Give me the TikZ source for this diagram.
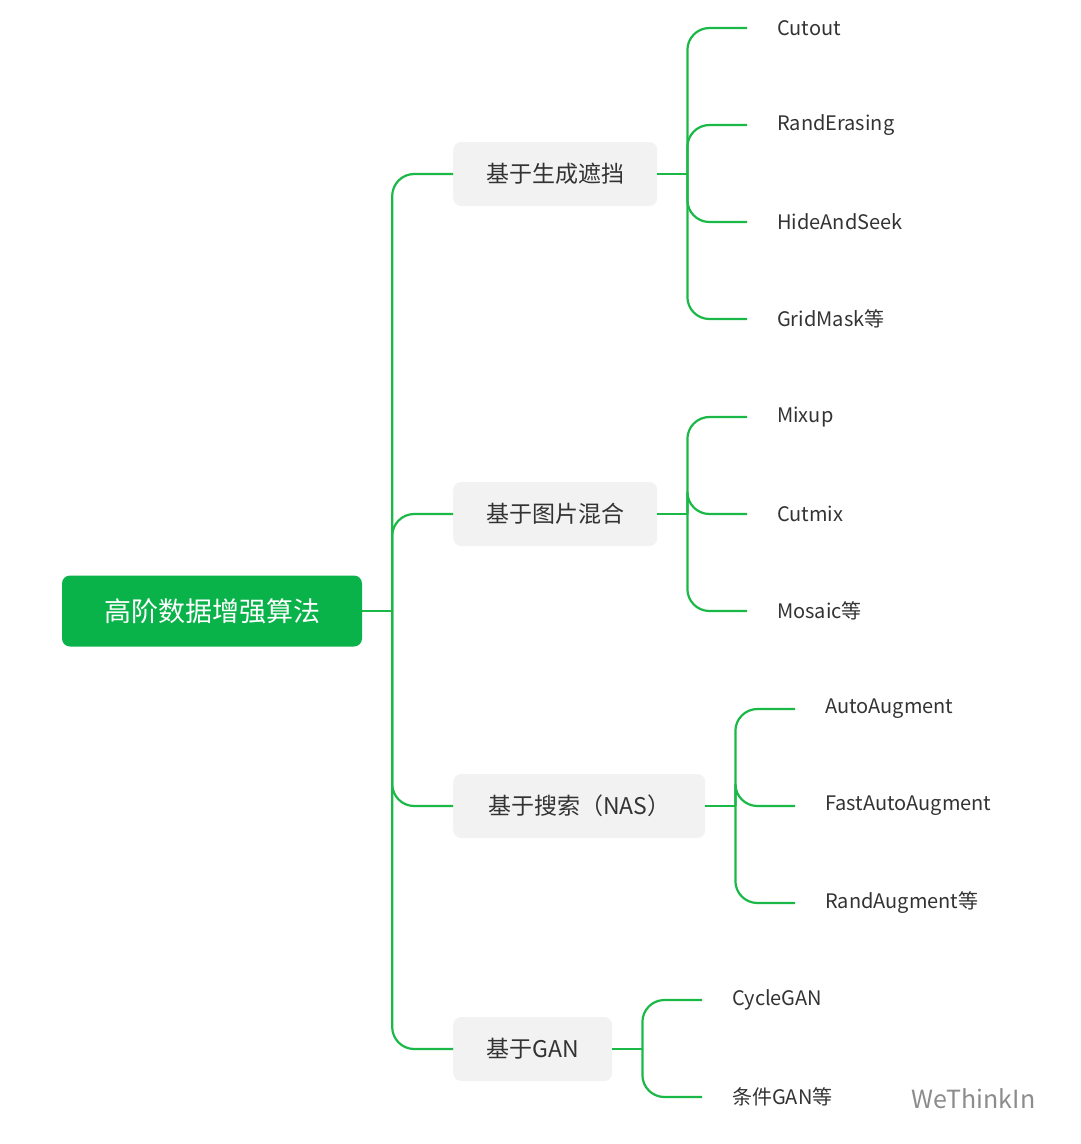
\documentclass[tikz,border=0pt]{standalone}
\usepackage{fontspec}
\setmainfont{Noto Sans CJK SC}
\usetikzlibrary{positioning}
\definecolor{branch}{RGB}{26, 184, 70}
\definecolor{rootgreen}{RGB}{10, 178, 74}
\definecolor{boxgray}{RGB}{242, 242, 242}
\definecolor{textgray}{RGB}{51, 51, 51}
\tikzset{
  rootbox/.style={fill=rootgreen, rounded corners=8pt, text=white, minimum width=300pt, minimum height=71pt, font=\fontsize{27}{31}\selectfont},
  catbox/.style={fill=boxgray, rounded corners=8pt, text=textgray, minimum height=64pt, anchor=west, font=\fontsize{23}{27}\selectfont},
  leaf/.style={anchor=west, inner sep=0pt, text=textgray, font=\fontsize{20}{24}\selectfont},
  link/.style={draw=branch, line width=2.2pt, rounded corners=22pt}
}
\begin{document}
\begin{tikzpicture}[x=1pt, y=-1pt]
  \useasboundingbox (0,0) rectangle (1080,1144);
  % root and categories
  \node[rootbox] (root) at (212,611) {高阶数据增强算法};
  \node[catbox, minimum width=204pt] (occl) at (453,174) {基于生成遮挡};
  \node[catbox, minimum width=204pt] (mix) at (453,514) {基于图片混合};
  \node[catbox, minimum width=252pt] (nas) at (453,806) {基于搜索（NAS）};
  \node[catbox, minimum width=159pt] (gan) at (453,1049) {基于GAN};

  % leaves
  \node[leaf] (cutout) at (777,28) {Cutout};
  \node[leaf] (rerase) at (777,125) {RandErasing};
  \node[leaf] (hide) at (777,222) {HideAndSeek};
  \node[leaf] (grid) at (777,319) {GridMask等};
  \node[leaf] (mixup) at (777,417) {Mixup};
  \node[leaf] (cutmix) at (777,514) {Cutmix};
  \node[leaf] (mosaic) at (777,611) {Mosaic等};
  \node[leaf] (autoaug) at (825,709) {AutoAugment};
  \node[leaf] (fastaug) at (825,806) {FastAutoAugment};
  \node[leaf] (randaug) at (825,903) {RandAugment等};
  \node[leaf] (cycle) at (732,1000) {CycleGAN};
  \node[leaf] (cgan) at (732,1097) {条件GAN等};

  % watermark
  \node[anchor=west, text=black!45, font=\fontsize{25}{29}\selectfont] (mark) at (908,1099) {WeThinkIn};

  % junctions
  \foreach \p in {root, occl, mix, nas, gan}
    \coordinate (\p-j) at ([xshift=30pt]\p.east);

  % connectors
  \foreach \p in {root, occl, mix, nas, gan}
    \draw[link] (\p.east) -- (\p-j);
  \foreach \c in {occl, mix, nas, gan}
    \draw[link] (root-j) |- (\c.west);
  \foreach \l in {cutout, rerase, hide, grid}
    \draw[link] (occl-j) |- ([xshift=-30pt]\l.west);
  \foreach \l in {mixup, cutmix, mosaic}
    \draw[link] (mix-j) |- ([xshift=-30pt]\l.west);
  \foreach \l in {autoaug, fastaug, randaug}
    \draw[link] (nas-j) |- ([xshift=-30pt]\l.west);
  \foreach \l in {cycle, cgan}
    \draw[link] (gan-j) |- ([xshift=-30pt]\l.west);
\end{tikzpicture}
\end{document}
